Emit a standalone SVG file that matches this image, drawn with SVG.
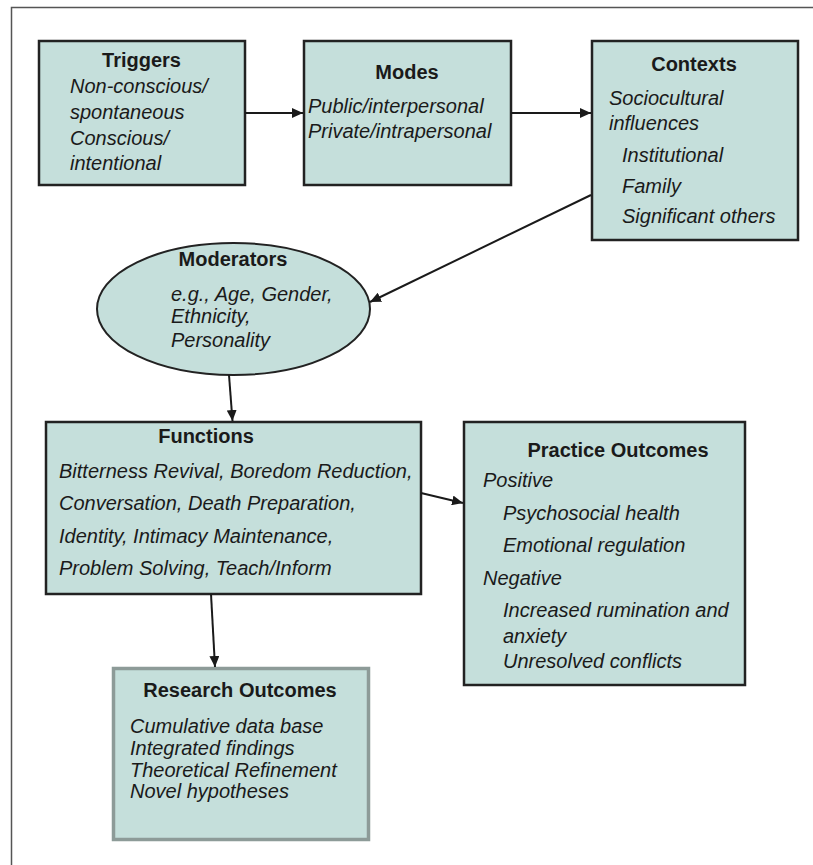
<svg xmlns="http://www.w3.org/2000/svg" width="813" height="865" viewBox="0 0 813 865">
<defs>
<marker id="ah" markerUnits="userSpaceOnUse" markerWidth="11" markerHeight="10" refX="11" refY="5" orient="auto">
<path d="M0,0 L11,5 L0,10 z" fill="#1a1a1a"/>
</marker>
</defs>
<style>
.box{fill:#c5dfdb;stroke:#222;stroke-width:2.5}
.ttl{font-family:"Liberation Sans",Arial,sans-serif;font-weight:bold;font-size:20px;fill:#1a1a1a}
.bd{font-family:"Liberation Sans",Arial,sans-serif;font-style:italic;font-size:20px;fill:#1a1a1a}
.mid{text-anchor:middle}
.conn{stroke:#1a1a1a;stroke-width:2;fill:none;marker-end:url(#ah)}
</style>
<rect width="813" height="865" fill="#fff"/>
<path d="M11.5,865 V7.5 H813" fill="none" stroke="#555" stroke-width="1.5"/>

<g id="triggers">
<rect class="box" x="39" y="41" width="206" height="144"/>
<text class="ttl mid" x="141.5" y="67">Triggers</text>
<text class="bd" x="70" y="93">Non-conscious/</text>
<text class="bd" x="70" y="119">spontaneous</text>
<text class="bd" x="70" y="145">Conscious/</text>
<text class="bd" x="70" y="170">intentional</text>
</g>

<g id="modes">
<rect class="box" x="304" y="41" width="207" height="144"/>
<text class="ttl mid" x="407" y="79">Modes</text>
<text class="bd" x="308" y="113">Public/interpersonal</text>
<text class="bd" x="308" y="138">Private/intrapersonal</text>
</g>

<g id="contexts">
<rect class="box" x="592" y="41" width="206" height="199"/>
<text class="ttl mid" x="694" y="71">Contexts</text>
<text class="bd" x="609" y="105">Sociocultural</text>
<text class="bd" x="609" y="130">influences</text>
<text class="bd" x="622" y="162">Institutional</text>
<text class="bd" x="622" y="193">Family</text>
<text class="bd" x="622" y="223">Significant others</text>
</g>

<g id="moderators">
<ellipse cx="233.5" cy="309" rx="136.5" ry="66" fill="#c5dfdb" stroke="#222" stroke-width="2"/>
<text class="ttl mid" x="233" y="266">Moderators</text>
<text class="bd" x="171" y="301">e.g., Age, Gender,</text>
<text class="bd" x="171" y="323">Ethnicity,</text>
<text class="bd" x="171" y="347">Personality</text>
</g>

<g id="functions">
<rect class="box" x="46" y="422" width="375" height="172"/>
<text class="ttl mid" x="206" y="443">Functions</text>
<text class="bd" x="59" y="478">Bitterness Revival, Boredom Reduction,</text>
<text class="bd" x="59" y="510">Conversation, Death Preparation,</text>
<text class="bd" x="59" y="543">Identity, Intimacy Maintenance,</text>
<text class="bd" x="59" y="575">Problem Solving, Teach/Inform</text>
</g>

<g id="practice">
<rect class="box" x="464" y="422" width="281" height="263"/>
<text class="ttl mid" x="618" y="457">Practice Outcomes</text>
<text class="bd" x="483" y="487">Positive</text>
<text class="bd" x="503" y="520">Psychosocial health</text>
<text class="bd" x="503" y="552">Emotional regulation</text>
<text class="bd" x="483" y="585">Negative</text>
<text class="bd" x="503" y="617">Increased rumination and</text>
<text class="bd" x="503" y="643">anxiety</text>
<text class="bd" x="503" y="668">Unresolved conflicts</text>
</g>

<g id="research">
<rect x="113.5" y="668.5" width="255" height="171" fill="#c5dfdb" stroke="#8d9b98" stroke-width="3.5"/>
<text class="ttl mid" x="240" y="697">Research Outcomes</text>
<text class="bd" x="130" y="733">Cumulative data base</text>
<text class="bd" x="130" y="755">Integrated findings</text>
<text class="bd" x="130" y="777">Theoretical Refinement</text>
<text class="bd" x="130" y="798">Novel hypotheses</text>
</g>

<g id="connectors">
<line class="conn" x1="245" y1="113" x2="303" y2="113"/>
<line class="conn" x1="511" y1="113" x2="591" y2="113"/>
<line class="conn" x1="591" y1="195" x2="370" y2="302"/>
<line class="conn" x1="229" y1="375" x2="232.5" y2="421"/>
<line class="conn" x1="421" y1="493" x2="463" y2="503"/>
<line class="conn" x1="211" y1="594" x2="215" y2="667"/>
</g>
</svg>
